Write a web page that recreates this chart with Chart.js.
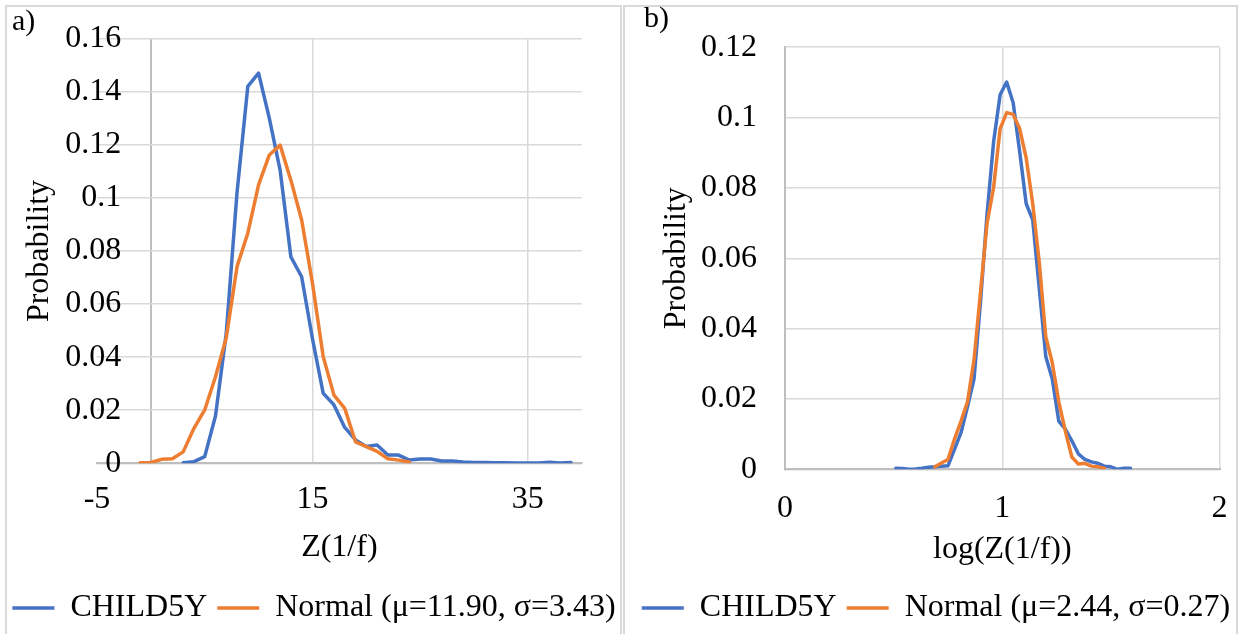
<!DOCTYPE html>
<html>
<head>
<meta charset="utf-8">
<script src="https://cdn.jsdelivr.net/npm/chart.js@4.4.0/dist/chart.umd.min.js"></script>
<style>
  html, body { margin: 0; padding: 0; background: #fff; overflow: hidden; width: 1244px; height: 634px; }
  .panel { position: absolute; top: 5px; height: 700px; border: 2px solid #d9d9d9; box-sizing: border-box; }
  #panel-a { left: 5px; width: 617px; }
  #panel-b { left: 623px; width: 615px; }
  canvas { position: absolute; top: 0; }
  #chart-a { left: 0; }
  #chart-b { left: 622px; }
  .tag { position: absolute; font-family: 'Liberation Serif', 'Times New Roman', serif; font-size: 30px; line-height: 30px; color: #000; }
</style>
</head>
<body>
<div class="panel" id="panel-a"></div>
<div class="panel" id="panel-b"></div>
<canvas id="chart-a" width="628" height="660"></canvas>
<canvas id="chart-b" width="628" height="660"></canvas>
<div class="tag" style="left:12px; top:5px;">a)</div>
<div class="tag" style="left:644px; top:2px;">b)</div>

<script>
'use strict';

/* ---------- panel a) : Z(1/f) ---------- */
const aChildX = [3, 4, 5, 6, 7, 8, 9, 10, 11, 12, 13, 14, 15, 16, 17, 18, 19, 20, 21,
                 22, 23, 24, 25, 26, 27, 28, 29, 30, 31, 32, 33, 34, 35, 36, 37, 38, 39];
const aChildY = [0.0002, 0.0006, 0.0025, 0.0178, 0.049, 0.102, 0.142, 0.147, 0.130, 0.1105,
                 0.0778, 0.0703, 0.047, 0.0264, 0.022, 0.0135, 0.0088, 0.0063, 0.0069,
                 0.0031, 0.0031, 0.0012, 0.0016, 0.0016, 0.0009, 0.0009, 0.0005, 0.0003,
                 0.0003, 0.0002, 0.0002, 0.0001, 0.0001, 0.0001, 0.0004, 0.0001, 0.0003];
const aNormX  = [-1, 0, 1, 2, 3, 4, 5, 6, 7, 8, 9, 10, 11, 12, 13, 14, 15, 16, 17,
                 18, 19, 20, 21, 22, 23, 24];
const aNormY  = [0.0002, 0.0003, 0.0015, 0.0017, 0.0043, 0.0132, 0.0201, 0.0326, 0.0473,
                 0.0741, 0.0867, 0.1049, 0.1162, 0.1199, 0.1067, 0.0917, 0.068, 0.0402,
                 0.0257, 0.0207, 0.0081, 0.0063, 0.0045, 0.0017, 0.0012, 0.0005];
const aXTicks = [-5, 15, 35];
const aYTicks = [0, 0.02, 0.04, 0.06, 0.08, 0.1, 0.12, 0.14, 0.16];
const aNames  = ['CHILD5Y', 'Normal (μ=11.90, σ=3.43)'];

/* ---------- panel b) : log(Z(1/f)) ---------- */
const bChildX = [0.51, 0.54, 0.57, 0.60, 0.63, 0.66, 0.69, 0.72, 0.75, 0.78, 0.81, 0.84,
                 0.87, 0.90, 0.93, 0.96, 0.99, 1.02, 1.05, 1.08, 1.11, 1.14, 1.17, 1.20,
                 1.23, 1.26, 1.29, 1.32, 1.35, 1.38, 1.41, 1.44, 1.47, 1.50, 1.53, 1.56, 1.59];
const bChildY = [0.0003, 0.0002, 0.0000, 0.0001, 0.0003, 0.0006, 0.0007, 0.0009, 0.0010,
                 0.0057, 0.0104, 0.0178, 0.0257, 0.0478, 0.0727, 0.0931, 0.1065, 0.1101,
                 0.1042, 0.0903, 0.0755, 0.0709, 0.0515, 0.0321, 0.0257, 0.0137, 0.0114,
                 0.0081, 0.0044, 0.0028, 0.0021, 0.0017, 0.0009, 0.0007, 0.0000, 0.0003, 0.0003];
const bNormX  = [0.69, 0.72, 0.75, 0.78, 0.81, 0.84, 0.87, 0.90, 0.93, 0.96, 0.99, 1.02,
                 1.05, 1.08, 1.11, 1.14, 1.17, 1.20, 1.23, 1.26, 1.29, 1.32, 1.35, 1.38,
                 1.41, 1.44, 1.47];
const bNormY  = [0.0007, 0.0018, 0.0028, 0.0086, 0.0137, 0.0192, 0.0312, 0.0506, 0.070,
                 0.0801, 0.0968, 0.1014, 0.1009, 0.0968, 0.0885, 0.0755, 0.0589, 0.0377,
                 0.0303, 0.0192, 0.0109, 0.0035, 0.0015, 0.0017, 0.0009, 0.0007, 0.0003];
const bXTicks = [0, 1, 2];
const bYTicks = [0, 0.02, 0.04, 0.06, 0.08, 0.1, 0.12];
const bNames  = ['CHILD5Y', 'Normal (μ=2.44, σ=0.27)'];

const BLUE   = '#4472C4';
const ORANGE = '#ED7D31';
const GRID   = '#d9d9d9';
const AXIS   = '#bfbfbf';
const FONT   = "'Liberation Serif', 'Times New Roman', serif";

Chart.defaults.font.family = FONT;
Chart.defaults.font.size = 32;
Chart.defaults.color = '#000';

const pts = (xs, ys) => xs.map((x, i) => ({ x, y: ys[i] }));
const fixTicks = values => scale => { scale.ticks = values.map(v => ({ value: v })); };
const fmt = v => String(parseFloat(Number(v).toFixed(4)));

function buildChart(id, p) {
    // vertical axis crosses at x = 0; for panel a) that is inside the plot
    const crossInside = p.xMin < 0;
    const xTickValues = crossInside ? p.xTicks.concat([0]) : p.xTicks;

    const scales = {
        x: {
            type: 'linear',
            min: p.xMin, max: p.xMax,
            afterBuildTicks: fixTicks(xTickValues),
            afterFit: s => { s.height = p.xHeight; },
            ticks: {
                padding: p.xTickPad, maxRotation: 0, autoSkip: false,
                callback: v => (crossInside && v === 0 ? '' : fmt(v)),
            },
            grid: {
                drawTicks: false,
                color: c => {
                    const v = c.tick ? c.tick.value : null;
                    if (v === 0) return AXIS;
                    if (v === p.xMin) return 'rgba(0,0,0,0)';
                    return GRID;
                },
                lineWidth: c => (c.tick && c.tick.value === 0 ? 2 : 1.5),
            },
            border: { color: AXIS, width: 2 },
            title: { display: true, text: p.xTitle, padding: { top: 0, bottom: p.xTitlePad } },
        },
        y: {
            min: 0, max: p.yMax,
            afterBuildTicks: fixTicks(p.yTicks),
            ticks: { padding: p.yTickPad, callback: v => fmt(v) },
            grid: { drawTicks: false, color: GRID, lineWidth: 1.5 },
            border: { display: !crossInside, color: AXIS, width: 2 },
        },
        pad: {
            type: 'linear',
            position: 'right',
            afterFit: s => { s.width = p.rightWidth; },
            ticks: { display: false },
            grid: { display: false },
            border: { display: false },
        },
    };

    const yTitle = { display: true, text: 'Probability', padding: { top: p.yTitlePad, bottom: 0 } };
    if (crossInside) {
        // tick labels sit beside the crossing axis, title stays at the left edge
        scales.y.position = { x: p.yLabelAt };
        scales.yTitle = {
            type: 'linear',
            position: 'left',
            afterFit: s => { s.width = p.yWidth; },
            ticks: { display: false },
            grid: { display: false },
            border: { display: false },
            title: yTitle,
        };
    } else {
        scales.y.position = 'left';
        scales.y.afterFit = s => { s.width = p.yWidth; };
        scales.y.title = yTitle;
    }

    return new Chart(document.getElementById(id), {
        type: 'line',
        data: {
            datasets: [
                { label: p.names[0], data: pts(p.childX, p.childY), borderColor: BLUE,   backgroundColor: BLUE,   borderWidth: 3.5, order: 1 },
                { label: p.names[1], data: pts(p.normX,  p.normY),  borderColor: ORANGE, backgroundColor: ORANGE, borderWidth: 3.5, order: 0 },
            ],
        },
        options: {
            responsive: false,
            animation: false,
            devicePixelRatio: 1,
            layout: { padding: { top: p.padTop, bottom: 26, left: 0, right: 0 } },
            elements: {
                point: { radius: 0, hoverRadius: 0 },
                line:  { tension: 0, borderJoinStyle: 'round', borderCapStyle: 'round' },
            },
            plugins: {
                tooltip: { enabled: false },
                legend: {
                    position: 'bottom',
                    labels: {
                        usePointStyle: true,
                        pointStyle: 'line',
                        pointStyleWidth: 42,
                        padding: 10,
                        color: '#000',
                        sort: (a, b) => a.datasetIndex - b.datasetIndex,
                    },
                },
            },
            scales,
        },
    });
}

buildChart('chart-a', {
    names: aNames, childX: aChildX, childY: aChildY, normX: aNormX, normY: aNormY,
    xMin: -5, xMax: 40, xTicks: aXTicks, yMax: 0.16, yTicks: aYTicks,
    xTitle: 'Z(1/f)', yLabelAt: -2.75,
    padTop: 38.7, yWidth: 97, rightWidth: 46.3,
    xHeight: 118.7, xTickPad: 17.5, xTitlePad: 14.8,
    yTickPad: 0, yTitlePad: 20.8,
});

buildChart('chart-b', {
    names: bNames, childX: bChildX, childY: bChildY, normX: bNormX, normY: bNormY,
    xMin: 0, xMax: 2, xTicks: bXTicks, yMax: 0.12, yTicks: bYTicks,
    xTitle: 'log(Z(1/f))',
    padTop: 36.1, yWidth: 163, rightWidth: 30.4,
    xHeight: 112.7, xTickPad: 20, xTitlePad: 12.8,
    yTickPad: 28, yTitlePad: 35.8,
});
</script>
</body>
</html>
